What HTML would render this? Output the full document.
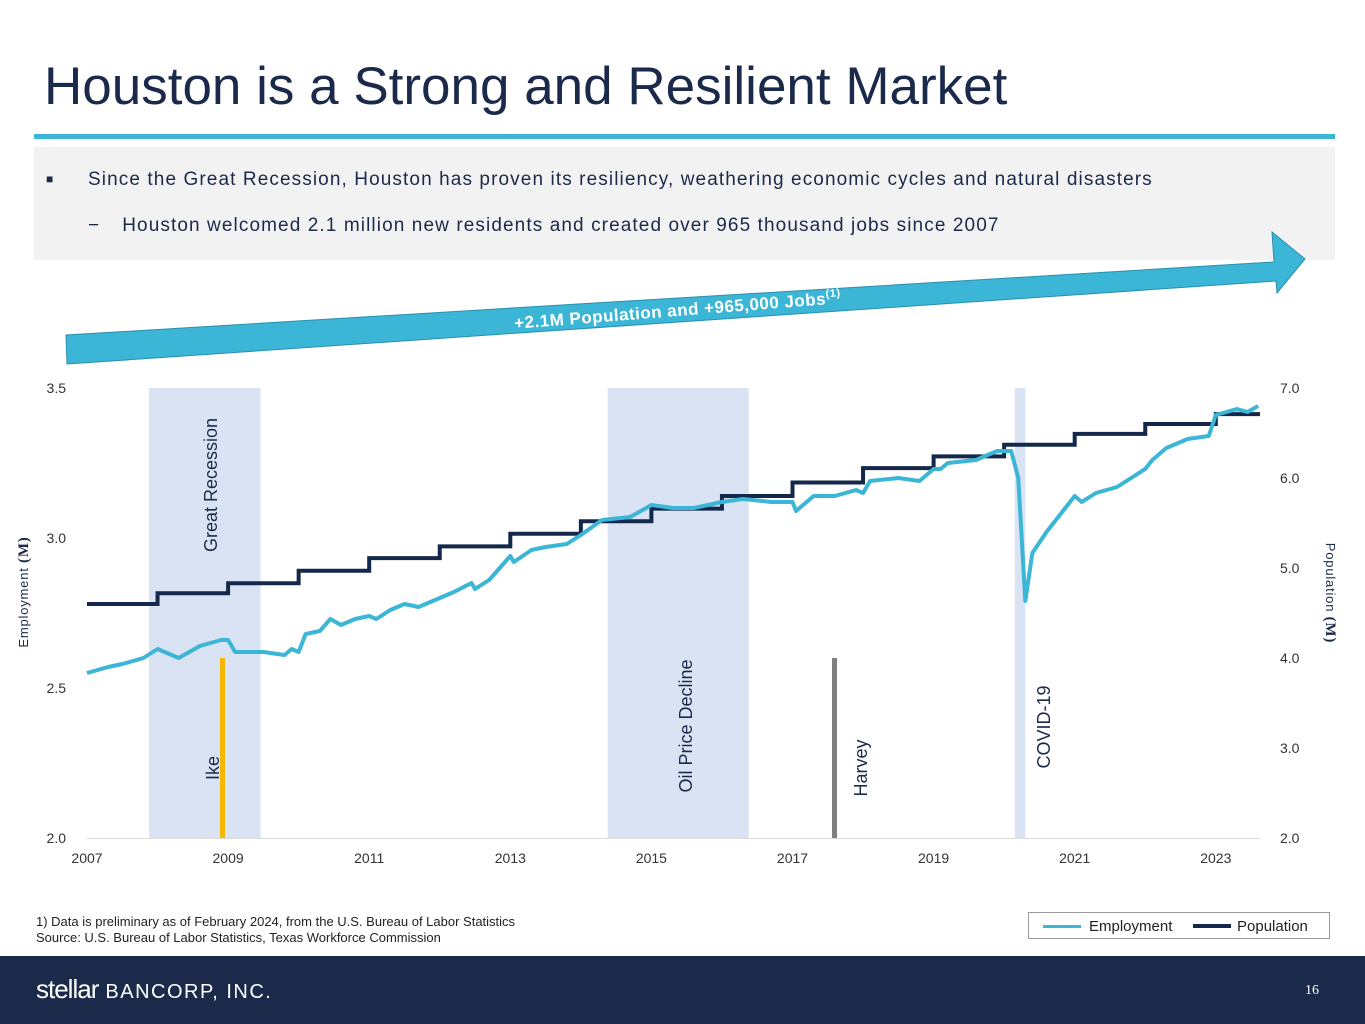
<!DOCTYPE html>
<html><head><meta charset="utf-8"><style>
body{margin:0;width:1365px;height:1024px;position:relative;background:#fff;font-family:"Liberation Sans",sans-serif;overflow:hidden}
.abs{position:absolute}
</style></head><body>
<div class="abs" style="left:44px;top:56px;font-size:53px;color:#1b2a4a">Houston is a Strong and Resilient Market</div>
<div class="abs" style="left:34px;top:134px;width:1301px;height:5px;background:#3bb6d6"></div>
<div class="abs" style="left:34px;top:147px;width:1301px;height:113px;background:#f2f2f2"></div>
<div class="abs" style="left:46px;top:172px;font-size:12px;color:#1b2a4a">■</div>
<div class="abs" style="left:88px;top:169px;font-size:19px;letter-spacing:1.1px;color:#1b2a4a;white-space:nowrap">Since the Great Recession, Houston has proven its resiliency, weathering economic cycles and natural disasters</div>
<div class="abs" style="left:88px;top:215px;font-size:19px;letter-spacing:1.1px;color:#1b2a4a;white-space:nowrap">−<span style="margin-left:22px">Houston welcomed 2.1 million new residents and created over 965 thousand jobs since 2007</span></div>

<svg class="abs" style="left:0;top:0" width="1365" height="1024">
<polygon points="66,335 1274,262 1272,232 1305,259 1277,293 1276,281 67,364" fill="#3bb6d6" stroke="#2a8fae" stroke-width="1"/>
<text x="678" y="316" transform="rotate(-4.5 678 316)" text-anchor="middle" fill="#fff" font-weight="bold" font-size="17" letter-spacing="0.5">+2.1M Population and +965,000 Jobs<tspan font-size="11" dy="-7">(1)</tspan></text>
<g id="plot"></g>
</svg>

<div class="abs" style="left:36px;top:914px;font-size:13px;color:#222;line-height:16px">1) Data is preliminary as of February 2024, from the U.S. Bureau of Labor Statistics<br>Source: U.S. Bureau of Labor Statistics, Texas Workforce Commission</div>
<div class="abs" style="left:1028px;top:912px;width:300px;height:25px;border:1px solid #999;font-size:15px;color:#222">
<span class="abs" style="left:14px;top:12px;width:38px;height:3px;background:#3bb6d6"></span><span class="abs" style="left:60px;top:5px">Employment</span>
<span class="abs" style="left:164px;top:11px;width:38px;height:4px;background:#14284b"></span><span class="abs" style="left:208px;top:5px">Population</span></div>
<div class="abs" style="left:0;top:956px;width:1365px;height:68px;background:#1b2a4a"></div>
<div class="abs" style="left:36px;top:974px;color:#fff;font-size:26px"><span style="letter-spacing:-1px">stellar</span><span style="font-size:20px;letter-spacing:1.5px"> BANCORP, INC.</span></div>
<div class="abs" style="left:1305px;top:983px;color:#fff;font-size:14px;font-family:'Liberation Serif',serif">16</div>

<script>
const yearTicks=[2007,2009,2011,2013,2015,2017,2019,2021,2023];
const leftTicks=[2.0,2.5,3.0,3.5];
const rightTicks=[2.0,3.0,4.0,5.0,6.0,7.0];
const popYears=[2007,2008,2009,2010,2011,2012,2013,2014,2015,2016,2017,2018,2019,2020,2021,2022,2023];
const popValues=[4.6,4.72,4.83,4.97,5.11,5.24,5.38,5.52,5.66,5.80,5.95,6.11,6.24,6.37,6.49,6.60,6.71];
const empTimes=[2007.0,2007.3,2007.5,2007.8,2008.0,2008.3,2008.6,2008.9,2009.0,2009.1,2009.5,2009.8,2009.9,2010.0,2010.1,2010.3,2010.45,2010.6,2010.8,2011.0,2011.1,2011.3,2011.5,2011.7,2011.9,2012.2,2012.45,2012.5,2012.7,2013.0,2013.05,2013.3,2013.5,2013.8,2014.0,2014.3,2014.7,2015.0,2015.3,2015.6,2016.0,2016.3,2016.7,2017.0,2017.05,2017.3,2017.6,2017.9,2018.0,2018.1,2018.5,2018.8,2019.0,2019.1,2019.2,2019.6,2019.9,2020.1,2020.2,2020.3,2020.4,2020.6,2020.8,2021.0,2021.1,2021.3,2021.6,2021.8,2022.0,2022.1,2022.3,2022.6,2022.9,2023.0,2023.3,2023.45,2023.6];
const empValues=[2.55,2.57,2.58,2.60,2.63,2.60,2.64,2.66,2.66,2.62,2.62,2.61,2.63,2.62,2.68,2.69,2.73,2.71,2.73,2.74,2.73,2.76,2.78,2.77,2.79,2.82,2.85,2.83,2.86,2.94,2.92,2.96,2.97,2.98,3.01,3.06,3.07,3.11,3.10,3.10,3.12,3.13,3.12,3.12,3.09,3.14,3.14,3.16,3.15,3.19,3.20,3.19,3.23,3.23,3.25,3.26,3.29,3.29,3.20,2.79,2.95,3.02,3.08,3.14,3.12,3.15,3.17,3.20,3.23,3.26,3.30,3.33,3.34,3.41,3.43,3.42,3.44];
const shades=[["great-recession",2007.88,2009.46],["oil-price-decline",2014.38,2016.38],["covid-19",2020.15,2020.3]];
const NS="http://www.w3.org/2000/svg";
const X=t=>87+(t-2007)*70.55;
const YL=v=>838-(v-2)*300;
const YR=v=>838-(v-2)*90;
const g=document.getElementById('plot');
function mk(tag,at,txt){const e=document.createElementNS(NS,tag);for(const k in at)e.setAttribute(k,at[k]);if(txt!==undefined)e.textContent=txt;g.appendChild(e);return e;}
shades.forEach(s=>{const r=mk('rect',{x:X(s[1]),y:388,width:X(s[2])-X(s[1]),height:450,fill:'#dae3f3'});

});
const ax=mk('line',{x1:87,x2:1260,y1:838.5,y2:838.5,stroke:'#d9d9d9'});


yearTicks.forEach(y=>{const t=mk('text',{x:X(y),y:863,'text-anchor':'middle','font-size':14,fill:'#333'},y);

});
leftTicks.forEach(v=>{const t=mk('text',{x:66,y:YL(v)+5,'text-anchor':'end','font-size':14,fill:'#333'},v.toFixed(1));

});
rightTicks.forEach(v=>{const t=mk('text',{x:1280,y:YR(v)+5,'font-size':14,fill:'#333'},v.toFixed(1));

});
const yl=mk('text',{x:0,y:0,transform:'translate(28,592) rotate(-90)','text-anchor':'middle','font-size':13,fill:'#1b2a4a','letter-spacing':'0.8'},'');
yl.innerHTML='Employment <tspan font-weight="bold" font-family="Liberation Serif" font-size="15">(M)</tspan>';


const yr=mk('text',{x:0,y:0,transform:'translate(1326,593) rotate(90)','text-anchor':'middle','font-size':13,fill:'#1b2a4a','letter-spacing':'0.8'},'');
yr.innerHTML='Population <tspan font-weight="bold" font-family="Liberation Serif" font-size="15">(M)</tspan>';


const ike=mk('line',{x1:222.5,x2:222.5,y1:658,y2:838,stroke:'#f5b800','stroke-width':5});


const hv=mk('line',{x1:834.5,x2:834.5,y1:658,y2:838,stroke:'#7f7f7f','stroke-width':5});


[["Great Recession",217,485],["Ike",219,768],["Oil Price Decline",692,726],["Harvey",867,768],["COVID-19",1050,727]].forEach(l=>{
const t=mk('text',{transform:`translate(${l[1]},${l[2]}) rotate(-90)`,'text-anchor':'middle','font-size':18,fill:'#1b2a4a'},l[0]);

});
let d='';popYears.forEach((y,i)=>{const x=X(y),yy=YR(popValues[i]);d+=(i?`L${x},${YR(popValues[i-1])}L${x},${yy}`:`M${x},${yy}`);});
d+=`L1260,${YR(popValues[popValues.length-1])}`;
const pl=mk('path',{d:d,fill:'none',stroke:'#14284b','stroke-width':4});


const el=mk('polyline',{points:empTimes.map((t,i)=>X(t)+','+YL(empValues[i])).join(' '),fill:'none',stroke:'#3bb6d6','stroke-width':4,'stroke-linejoin':'round'});


</script>
</body></html>
